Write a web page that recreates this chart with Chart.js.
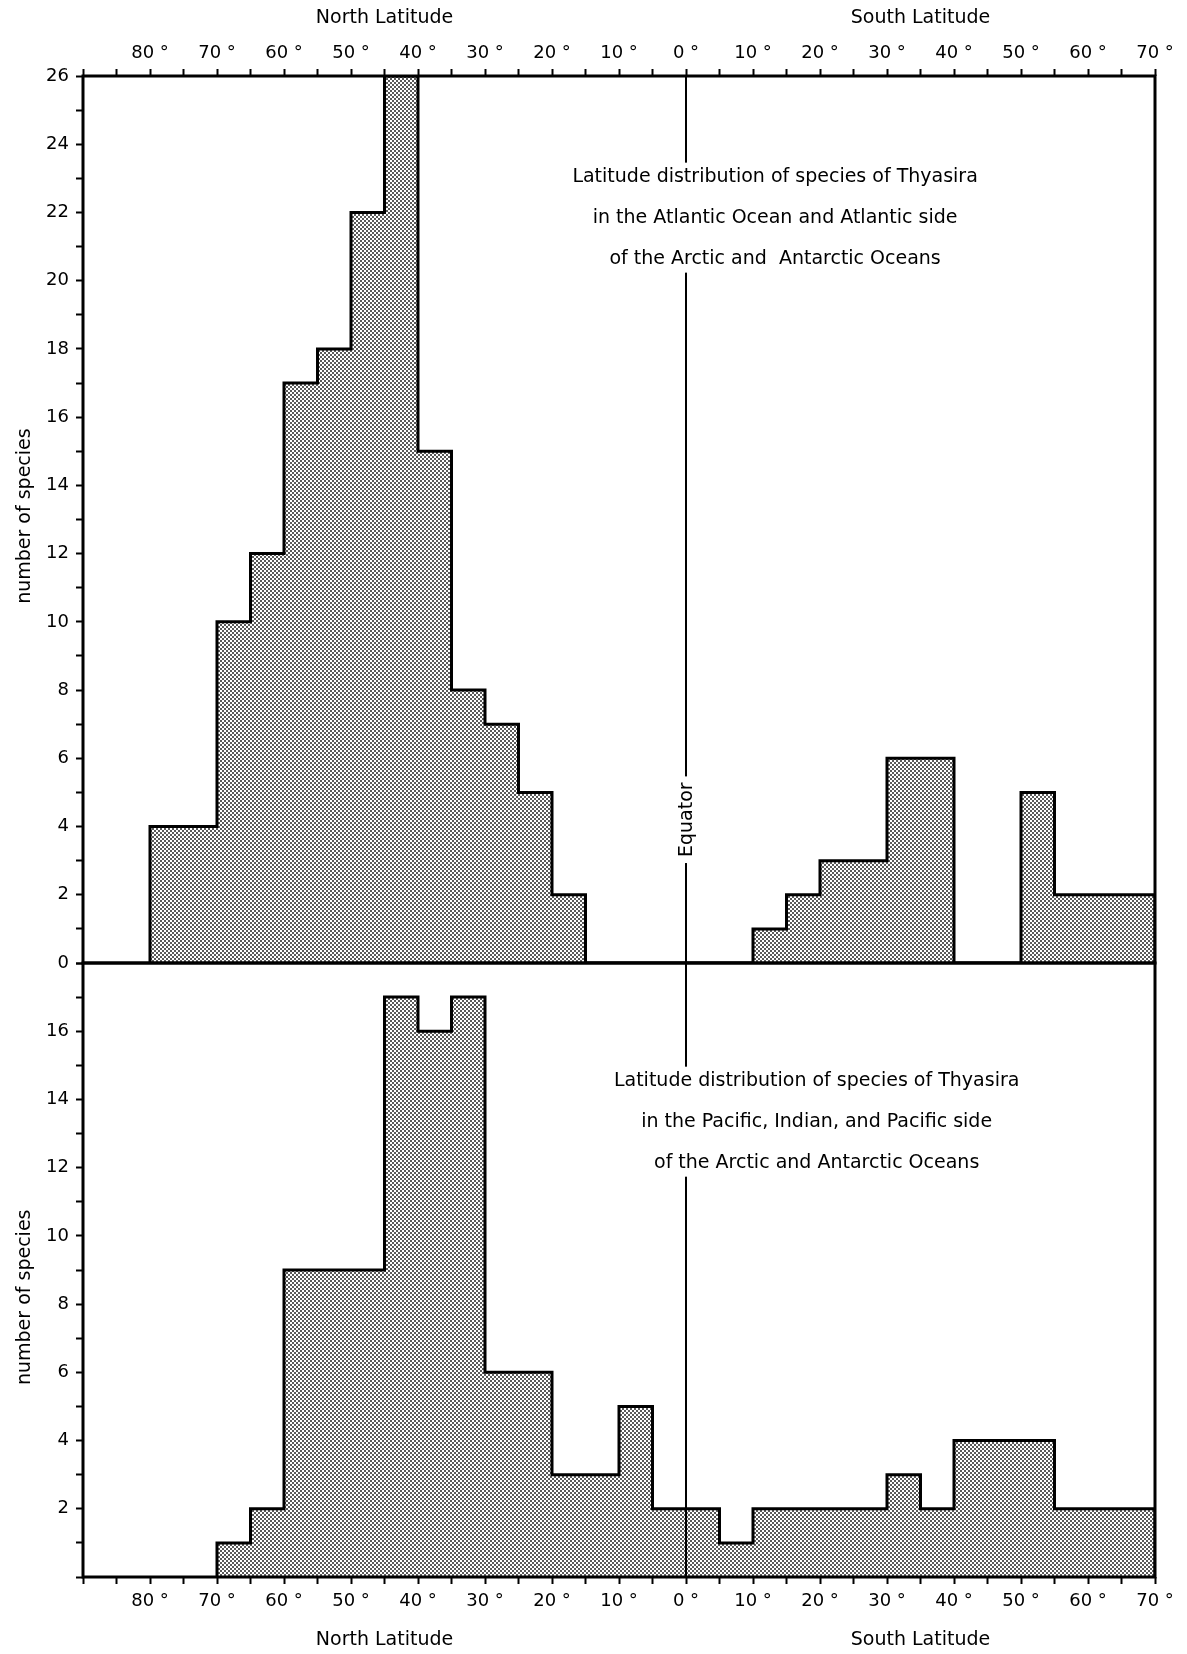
<!DOCTYPE html>
<html>
<head>
<meta charset="utf-8">
<script src="https://cdn.jsdelivr.net/npm/chart.js@4.4.1/dist/chart.umd.min.js"></script>
<style>
  html, body { margin: 0; padding: 0; background: #fff; }
  #wrap { position: relative; width: 1187px; height: 1654px; }
  #wrap canvas { position: absolute; left: 0; }
  #atlantic { top: 0; }
  #pacific { top: 930px; }
</style>
</head>
<body>
<div id="wrap">
  <canvas id="atlantic" width="1187" height="1000"></canvas>
  <canvas id="pacific" width="1187" height="724"></canvas>
</div>
<script>
// latitude in degrees: north is negative, south positive
// bin edges + species counts per bin
const atlanticEdges = [-80, -70, -65, -60, -55, -50, -45, -40, -35, -30, -25, -20, -15, 10, 15, 20, 30, 40, 50, 55, 70];
const atlanticCounts = [4, 10, 12, 17, 18, 22, 26, 15, 8, 7, 5, 2, 0, 1, 2, 3, 6, 0, 5, 2];

const pacificEdges = [-70, -65, -60, -45, -40, -35, -30, -20, -10, -5, 5, 10, 30, 35, 40, 55, 70];
const pacificCounts = [1, 2, 9, 17, 16, 17, 6, 3, 5, 2, 1, 2, 3, 2, 4, 2];

const latMin = -90, latMax = 70;
const atlanticMax = 26, pacificMax = 18;

const atlanticNote = [
  'Latitude distribution of species of Thyasira',
  'in the Atlantic Ocean and Atlantic side',
  'of the Arctic and  Antarctic Oceans'
];
const pacificNote = [
  'Latitude distribution of species of Thyasira',
  'in the Pacific, Indian, and Pacific side',
  'of the Arctic and Antarctic Oceans'
];

Chart.defaults.font.family = 'DejaVu Sans';
Chart.defaults.color = '#000';

// step outline: each count holds from its edge to the next one
function toSteps(edges, counts) {
  const pts = [{ x: edges[0], y: 0 }];
  counts.forEach((c, i) => pts.push({ x: edges[i], y: c }));
  pts.push({ x: edges[edges.length - 1], y: 0 });
  return pts;
}

// dotted grey screen like the printed figure
function stipple() {
  const c = document.createElement('canvas');
  c.width = 4; c.height = 4;
  const g = c.getContext('2d');
  g.fillStyle = '#fff';
  g.fillRect(0, 0, 4, 4);
  g.fillStyle = '#5a5a5a';
  g.fillRect(0, 0, 2, 2);
  g.fillRect(2, 2, 2, 2);
  return g.createPattern(c, 'repeat');
}

const decor = {
  id: 'decor',
  afterDraw(chart, args, o) {
    const { ctx, chartArea: a } = chart;
    const x = chart.scales.x, y = chart.scales.y;
    const eq = x.getPixelForValue(0);
    ctx.save();

    // equator line
    ctx.strokeStyle = '#000';
    ctx.lineWidth = 2;
    ctx.beginPath();
    ctx.moveTo(eq, a.top);
    ctx.lineTo(eq, a.bottom);
    ctx.stroke();

    // note block
    ctx.font = '19px "DejaVu Sans"';
    ctx.textAlign = 'center';
    ctx.textBaseline = 'middle';
    const nx = x.getPixelForValue(o.noteX);
    const ny = y.getPixelForValue(o.noteY);
    const gap = 41;
    const w = Math.max(...o.note.map(t => ctx.measureText(t).width));
    ctx.fillStyle = '#fff';
    ctx.fillRect(nx - w / 2 - 6, ny - 14, w + 12, gap * (o.note.length - 1) + 28);
    ctx.fillStyle = '#000';
    o.note.forEach((t, i) => ctx.fillText(t, nx, ny + i * gap));

    // "Equator" label
    if (o.equatorY != null) {
      const ey = y.getPixelForValue(o.equatorY);
      const ew = ctx.measureText('Equator').width;
      ctx.fillStyle = '#fff';
      ctx.fillRect(eq - 12, ey - ew / 2 - 6, 24, ew + 12);
      ctx.fillStyle = '#000';
      ctx.translate(eq, ey);
      ctx.rotate(-Math.PI / 2);
      ctx.fillText('Equator', 0, 1);
      ctx.setTransform(1, 0, 0, 1, 0, 0);
    }

    // y axis title
    ctx.font = '19px "DejaVu Sans"';
    ctx.translate(a.left - 58, y.getPixelForValue(o.yTitleAt));
    ctx.rotate(-Math.PI / 2);
    ctx.fillText('number of species', 0, 0);
    ctx.setTransform(1, 0, 0, 1, 0, 0);

    // hemisphere titles
    const ty = o.titleAbove ? a.top - 58 : a.bottom + 63;
    ctx.fillText('North Latitude', x.getPixelForValue(-45), ty);
    ctx.fillText('South Latitude', x.getPixelForValue(35), ty);

    // frame
    ctx.lineWidth = 3;
    ctx.strokeRect(a.left, a.top, a.right - a.left, a.bottom - a.top);
    ctx.restore();
  }
};

function histChart(id, cfg) {
  return new Chart(document.getElementById(id), {
    type: 'line',
    data: {
      datasets: [{
        data: toSteps(cfg.edges, cfg.counts),
        stepped: 'before',
        fill: 'origin',
        backgroundColor: stipple(),
        borderColor: '#000',
        borderWidth: 3,
        borderJoinStyle: 'miter',
        pointRadius: 0
      }]
    },
    options: {
      responsive: false,
      animation: false,
      layout: { padding: cfg.padding },
      plugins: {
        legend: { display: false },
        tooltip: { enabled: false },
        decor: cfg.decor
      },
      scales: {
        x: {
          type: 'linear',
          position: cfg.xPos,
          min: latMin,
          max: latMax,
          afterFit: s => { s.height = cfg.xHeight; },
          ticks: {
            stepSize: 5,
            autoSkip: false,
            maxRotation: 0,
            padding: cfg.xPad,
            font: { size: 18 },
            callback: v => (v % 10 === 0 && Math.abs(v) !== 90) ? Math.abs(v) + ' °' : ''
          },
          grid: { drawOnChartArea: false, tickLength: 7, tickWidth: 2, tickColor: '#000' },
          border: { display: false }
        },
        y: {
          min: 0,
          max: cfg.yMax,
          afterFit: s => { s.width = 83; },
          ticks: {
            stepSize: 1,
            autoSkip: false,
            padding: 7,
            font: { size: 18 },
            callback: v => (v % 2 === 0 && cfg.yLabel(v)) ? String(v) : ''
          },
          grid: { drawOnChartArea: false, tickLength: 7, tickWidth: 2, tickColor: '#000' },
          border: { display: false }
        }
      }
    },
    plugins: [decor]
  });
}

histChart('atlantic', {
  edges: atlanticEdges,
  counts: atlanticCounts,
  yMax: atlanticMax,
  yLabel: v => true,
  xPos: 'top',
  xHeight: 76,
  xPad: 5,
  padding: { top: 0, right: 32, bottom: 37, left: 0 },
  decor: { note: atlanticNote, noteX: 13.3, noteY: 23.05, equatorY: 4.2, yTitleAt: 13.1, titleAbove: true }
});

histChart('pacific', {
  edges: pacificEdges,
  counts: pacificCounts,
  yMax: pacificMax,
  yLabel: v => v > 0 && v < pacificMax,
  xPos: 'bottom',
  xHeight: 77,
  xPad: 7,
  padding: { top: 33, right: 32, bottom: 0, left: 0 },
  decor: { note: pacificNote, noteX: 19.5, noteY: 14.55, equatorY: null, yTitleAt: 8.2, titleAbove: false }
});
</script>
</body>
</html>
